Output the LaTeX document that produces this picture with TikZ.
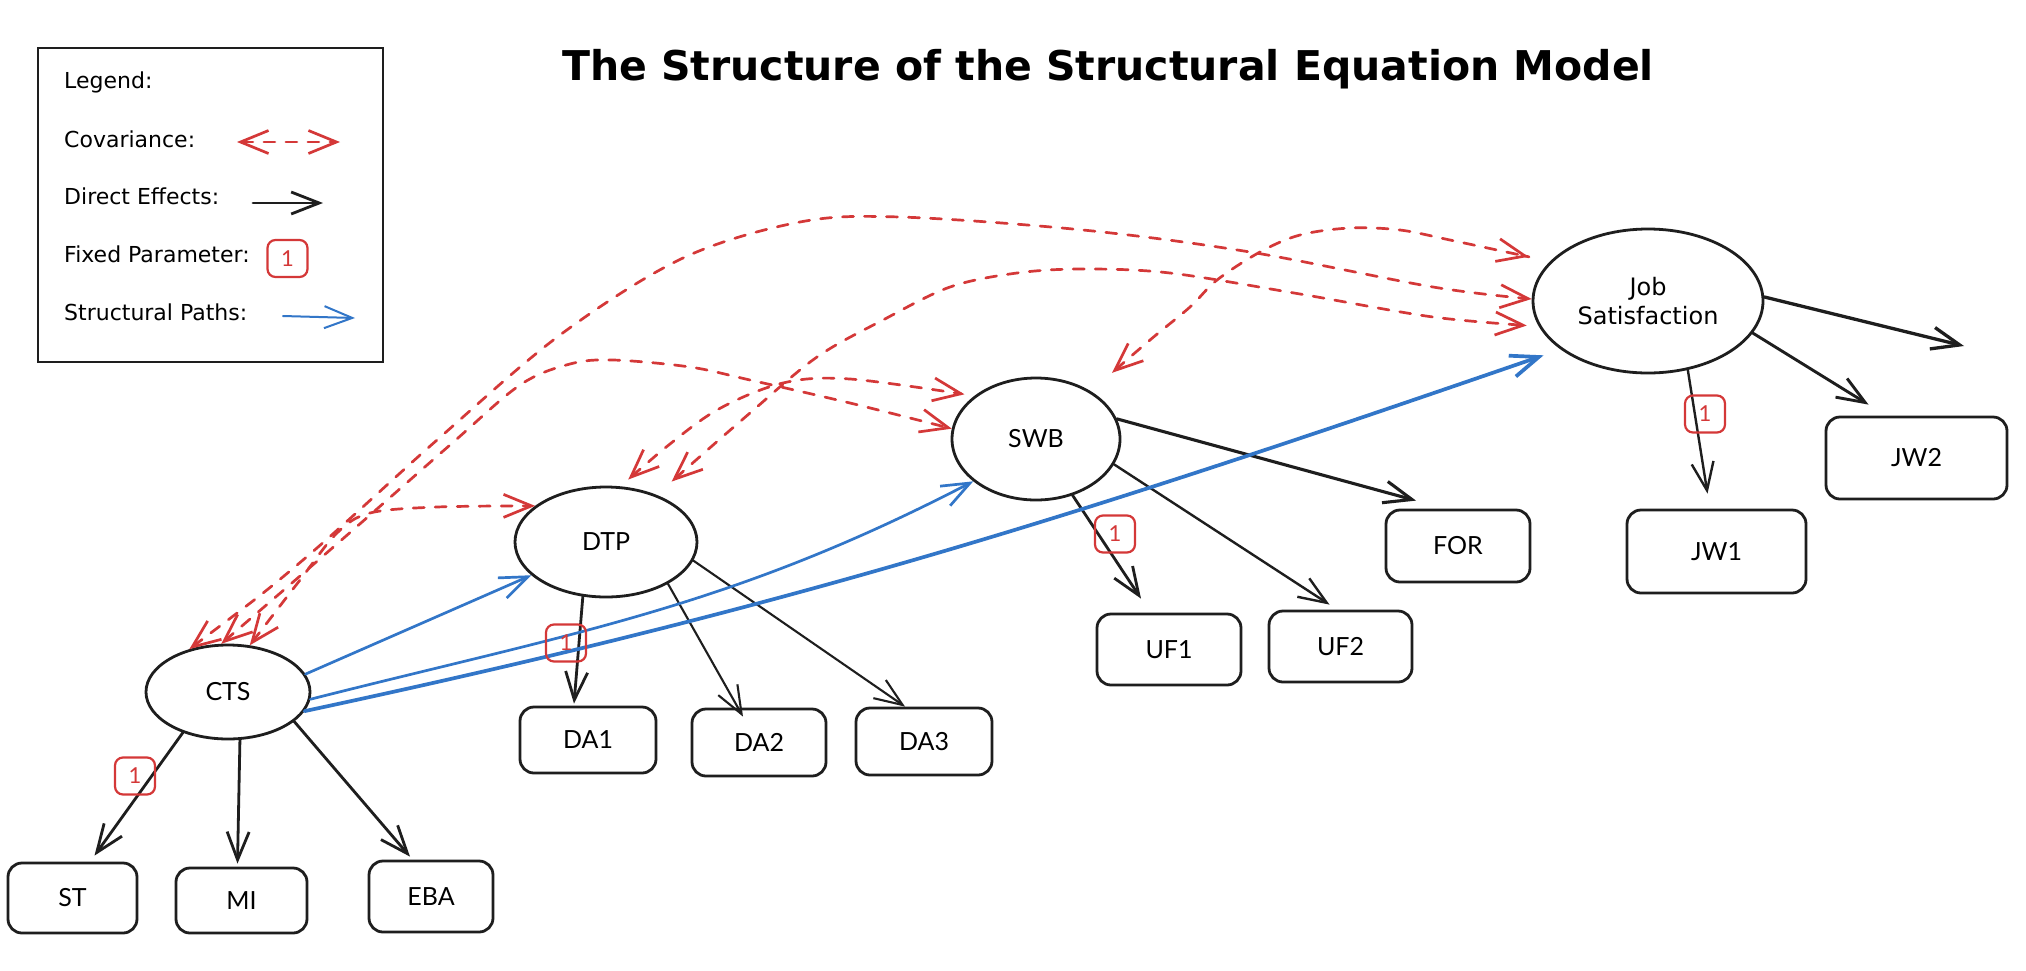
\documentclass[tikz,border=0pt]{standalone}
\usepackage{fontspec}
\setmainfont{Lato}
\newfontfamily\handfont{DejaVu Sans}
\usetikzlibrary{arrows.meta,shapes.geometric}
\definecolor{covred}{RGB}{212,56,56}
\definecolor{pathblue}{RGB}{50,118,200}
\definecolor{ink}{RGB}{30,30,30}
\begin{document}
\begin{tikzpicture}[x=1pt,y=-1pt,
  latent/.style={ellipse, draw=ink, line width=2.8pt, inner sep=0pt, font=\fontsize{25}{29}\selectfont},
  obs/.style={rectangle, rounded corners=14pt, draw=ink, line width=2.8pt, inner sep=0pt, font=\fontsize{25}{29}\selectfont},
  fixedbox/.style={rectangle, rounded corners=8pt, draw=covred, line width=2.2pt, text=covred, minimum width=40pt, minimum height=37pt, inner sep=0pt, font=\fontsize{22}{25}\selectfont},
  effect/.style={draw=ink, line width=2.8pt, line cap=round, line join=round, -{Straight Barb[length=28pt,width=22pt]}},
  covar/.style={draw=covred, line width=2.7pt, line cap=round, line join=round, dash pattern=on 11pt off 11pt, {Straight Barb[length=28pt,width=23pt]}-{Straight Barb[length=28pt,width=23pt]}},
  structural/.style={draw=pathblue, line width=2.7pt, line cap=round, line join=round, -{Straight Barb[length=28pt,width=22pt]}},
  legendtext/.style={font=\handfont\fontsize{22}{26}\selectfont, inner sep=0pt},
]
\path[fill=white] (0,0) rectangle (2026,970);
\useasboundingbox (0,0) rectangle (2026,970);

% title
\node[font=\handfont\bfseries\fontsize{41}{48}\selectfont, anchor=base, inner sep=0pt] (title) at (1108,80) {The Structure of the Structural Equation Model};

% legend
\node[draw=ink, line width=2.8pt, minimum width=345pt, minimum height=314pt, inner sep=0pt] (legend) at (210.5,205) {};
\node[legendtext, anchor=base west] (lgA) at (64,88) {Legend:};
\node[legendtext, anchor=base west] (lgB) at (64,147) {Covariance:};
\node[legendtext, anchor=base west] (lgC) at (64,204) {Direct Effects:};
\node[legendtext, anchor=base west] (lgD) at (64,262) {Fixed Parameter:};
\node[legendtext, anchor=base west] (lgE) at (64,320) {Structural Paths:};
\coordinate (covA) at (237,142);
\coordinate (covB) at (340,142);
\coordinate (effA) at (253,203);
\coordinate (effB) at (323,203);
\coordinate (strA) at (283,316);
\coordinate (strB) at (355,318);
\draw[covar] (covA) -- (covB);
\draw[effect] (effA) -- (effB);
\draw[structural, line width=2pt] (strA) -- (strB);
\node[fixedbox] (fxlegend) at (287.5,258.5) {1};

% latent variables
\node[latent, minimum width=164pt, minimum height=94pt] (cts) at (228,692) {CTS};
\node[latent, minimum width=182pt, minimum height=110pt] (dtp) at (606,542) {DTP};
\node[latent, minimum width=168pt, minimum height=122pt] (swb) at (1036,439) {SWB};
\node[latent, minimum width=230pt, minimum height=144pt, align=center, font=\handfont\fontsize{24}{29}\selectfont] (js) at (1648,301) {Job\\Satisfaction};

% observed variables
\node[obs, minimum width=129pt, minimum height=70pt] (st) at (72.5,898) {ST};
\node[obs, minimum width=131pt, minimum height=65pt] (mi) at (241.5,900.5) {MI};
\node[obs, minimum width=124pt, minimum height=71pt] (eba) at (431,896.5) {EBA};
\node[obs, minimum width=136pt, minimum height=66pt] (da1) at (588,740) {DA1};
\node[obs, minimum width=134pt, minimum height=67pt] (da2) at (759,742.5) {DA2};
\node[obs, minimum width=136pt, minimum height=67pt] (da3) at (924,741.5) {DA3};
\node[obs, minimum width=144pt, minimum height=71pt] (uf1) at (1169,649.5) {UF1};
\node[obs, minimum width=143pt, minimum height=71pt] (uf2) at (1340.5,646.5) {UF2};
\node[obs, minimum width=144pt, minimum height=72pt] (fornode) at (1458,546) {FOR};
\node[obs, minimum width=179pt, minimum height=83pt] (jw1) at (1716.5,551.5) {JW1};
\node[obs, minimum width=181pt, minimum height=82pt] (jw2) at (1916.5,458) {JW2};
\coordinate (jsfree) at (1964,346);

% direct effects
\draw[effect] (cts.222) -- ([xshift=22pt,yshift=6pt]st.north);
\draw[effect] (cts.284) -- ([xshift=-4pt,yshift=3pt]mi.north);
\draw[effect] (cts.336) -- ([xshift=-21pt,yshift=3pt]eba.north);
\draw[effect] (dtp.247) -- ([xshift=-14pt,yshift=2pt]da1.north);
\draw[effect, line width=2.1pt] (dtp.326) -- ([xshift=-16pt,yshift=-9pt]da2.north);
\draw[effect, line width=2.1pt] (dtp.348) -- ([xshift=-19pt]da3.north);
\draw[effect] (swb.303) -- ([xshift=-28pt,yshift=14pt]uf1.north);
\draw[effect, line width=2.4pt] (swb.342) -- ([xshift=-11pt,yshift=5pt]uf2.north);
\draw[effect, line width=3.1pt] (swb.14) -- ([xshift=-42pt,yshift=8pt]fornode.north);
\draw[effect, line width=2.4pt] (js.300) -- ([xshift=-9pt,yshift=15pt]jw1.north);
\draw[effect, line width=2.9pt] (js.343) -- ([xshift=-48pt,yshift=11pt]jw2.north);
\draw[effect, line width=3.3pt] (js.2) -- (jsfree);

% structural paths
\draw[structural] (cts.13) -- (dtp.204);
\draw[structural] (cts.355) .. controls (576,632) and (730,607.5) .. (swb.214);
\draw[structural, line width=3.7pt, shorten >=18pt] (cts.346) .. controls (801,605) and (1080,515) .. (js.209);

% covariances
\draw[covar] plot[smooth, tension=0.55] coordinates {(cts.132) (303,560) (437,440) (560,335) (683,258) (800,222) (900,217) (1083,230) (1250,252) (1433,287) (js.179)};
\draw[covar, shorten <=20pt, shorten >=12pt] plot[smooth, tension=0.55] coordinates {(dtp.43) (750,413) (817,357) (883,320) (950,287) (1017,273) (1083,269) (1170,273) (1300,294) (1433,317) (js.193)};
\draw[covar] plot[smooth, tension=0.55] coordinates {(cts.98) (330,550) (450,445) (520,385) (570,364) (613,360) (690,367) (750,380) (850,403) (swb.173)};
\draw[covar] plot[smooth, tension=0.55] coordinates {(cts.65) (300,580) (337,533) (370,513) (437,507) (dtp.153)};
\draw[covar, shorten <=10pt, shorten >=10pt] plot[smooth, tension=0.55] coordinates {(dtp.75) (660,452) (717,410) (783,383) (850,379) (swb.145)};
\draw[covar, shorten <=28pt, shorten >=22pt] plot[smooth, tension=0.55] coordinates {(swb.41) (1150,340) (1190,307) (1217,280) (1260,252) (1300,235) (1350,228) (1400,230) (1450,240) (js.158)};

% fixed parameters
\node[fixedbox] (fxcts) at (135,776) {1};
\node[fixedbox] (fxdtp) at (566,643) {1};
\node[fixedbox] (fxswb) at (1115,534) {1};
\node[fixedbox] (fxjs) at (1705,414) {1};
\end{tikzpicture}
\end{document}
